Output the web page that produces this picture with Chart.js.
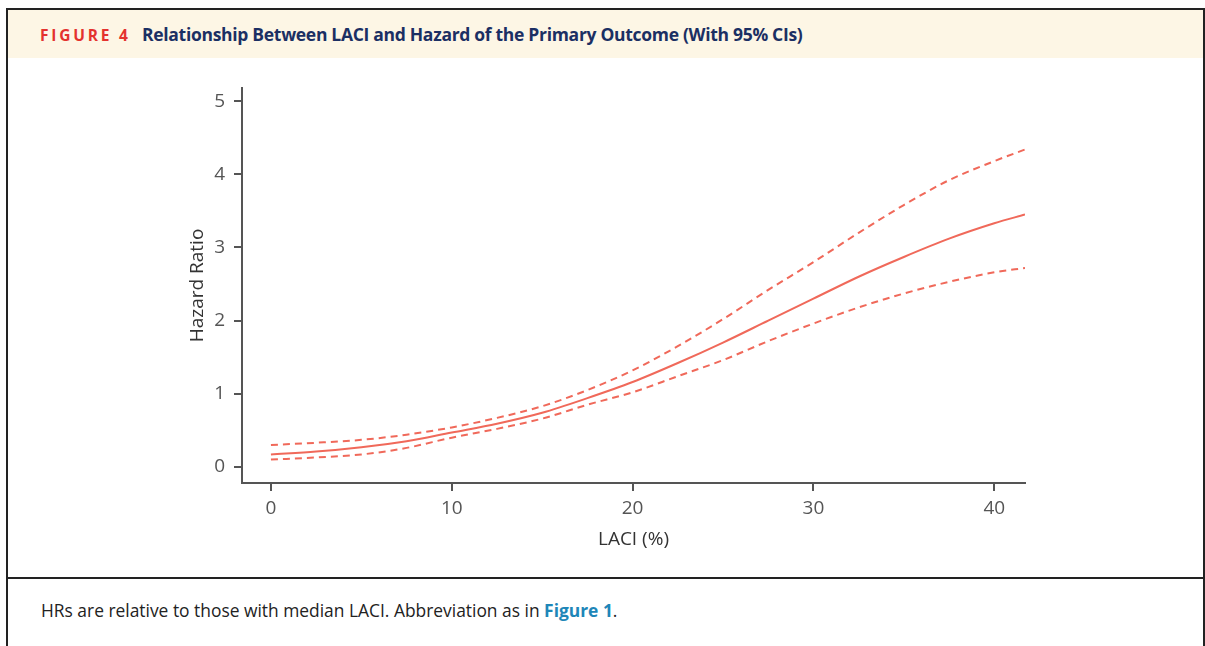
<!DOCTYPE html>
<html>
<head>
<meta charset="utf-8">
<script src="https://cdn.jsdelivr.net/npm/chart.js@4/dist/chart.umd.min.js"></script>
<style>
  html, body { margin: 0; padding: 0; background: #fff; }
  body { width: 1205px; height: 646px; position: relative; overflow: hidden; }
  .box { position: absolute; left: 6px; top: 8px; width: 1195px; height: 660px; border: 2px solid #222; }
  .head { position: absolute; left: 8px; top: 10px; width: 1195px; height: 48px; background: #fdf6e5; }
  .head .fig { position: absolute; left: 32px; top: 14px; font: bold 15.5px "Open Sans", sans-serif; color: #e4322e; letter-spacing: 2.8px; }
  .head .ttl { position: absolute; left: 134px; top: 12px; font: bold 17.5px "Open Sans", sans-serif; color: #1b2f63; letter-spacing: -0.3px; }
  .rule { position: absolute; left: 8px; top: 577px; width: 1195px; height: 2px; background: #222; }
  .cap { position: absolute; left: 41px; top: 598px; font: 17.4px "Open Sans", sans-serif; color: #222; }
  .cap b { color: #1e86b8; }
  #wrap { position: absolute; left: 0; top: 60px; width: 1205px; height: 510px; }
</style>
</head>
<body>
<div class="box"></div>
<div class="head">
  <span class="fig">FIGURE 4</span>
  <span class="ttl">Relationship Between LACI and Hazard of the Primary Outcome (With 95% CIs)</span>
</div>
<div id="wrap"><canvas id="hrChart"></canvas></div>
<div class="rule"></div>
<div class="cap">HRs are relative to those with median LACI. Abbreviation as in <b>Figure 1</b>.</div>
<script>
// LACI (%) and hazard ratio
const laci  = [0, 2.5, 5, 7.5, 10, 12.5, 15, 17.5, 20, 22.5, 25, 27.5, 30, 32.5, 35, 37.5, 40, 41.7];
const hr    = [0.17, 0.21, 0.27, 0.35, 0.47, 0.59, 0.74, 0.94, 1.16, 1.42, 1.70, 2.00, 2.30, 2.60, 2.87, 3.12, 3.33, 3.45];
const upper = [0.30, 0.33, 0.37, 0.44, 0.54, 0.67, 0.83, 1.05, 1.32, 1.65, 2.02, 2.42, 2.80, 3.20, 3.58, 3.92, 4.18, 4.34];
const lower = [0.10, 0.13, 0.17, 0.26, 0.40, 0.52, 0.66, 0.85, 1.02, 1.24, 1.46, 1.72, 1.96, 2.18, 2.37, 2.53, 2.66, 2.72];
const xTicks = [0, 10, 20, 30, 40];
const yTicks = [0, 1, 2, 3, 4, 5];

const lineColor = '#f0695a';
const axisColor = '#555';
const pts = arr => laci.map((x, i) => ({ x: x, y: arr[i] }));

const hrData = {
    datasets: [
        {
            label: 'HR',
            data: pts(hr),
            borderColor: lineColor,
            borderWidth: 2,
            pointRadius: 0,
            cubicInterpolationMode: 'monotone'
        },
        {
            label: 'Upper 95% CI',
            data: pts(upper),
            borderColor: lineColor,
            borderWidth: 2,
            borderDash: [7, 5],
            pointRadius: 0,
            cubicInterpolationMode: 'monotone'
        },
        {
            label: 'Lower 95% CI',
            data: pts(lower),
            borderColor: lineColor,
            borderWidth: 2,
            borderDash: [7, 5],
            pointRadius: 0,
            cubicInterpolationMode: 'monotone'
        }
    ]
};

// config
const hrConfig = {
    type: 'line',
    data: hrData,
    options: {
        responsive: true,
        maintainAspectRatio: false,
        animation: false,
        layout: { padding: { left: 186, top: 28, right: 180, bottom: 15 } },
        scales: {
            x: {
                type: 'linear',
                min: -1.6,
                max: 41.7,
                afterBuildTicks: s => { s.ticks = xTicks.map(v => ({ value: v })); },
                afterFit: s => { s.height = 72; },
                border: { display: true, color: axisColor, width: 2 },
                grid: { display: true, drawOnChartArea: false, drawTicks: true, tickLength: 8, color: axisColor, lineWidth: 2 },
                ticks: { color: axisColor, padding: 6, font: { family: 'Open Sans', size: 19 } },
                title: { display: true, text: 'LACI (%)', color: '#333', padding: { top: 4, bottom: 4 }, font: { family: 'Open Sans', size: 19 } }
            },
            y: {
                min: -0.22,
                max: 5.18,
                afterBuildTicks: s => { s.ticks = yTicks.map(v => ({ value: v })); },
                afterFit: s => { s.width = 56; },
                border: { display: true, color: axisColor, width: 2 },
                grid: { display: true, drawOnChartArea: false, drawTicks: true, tickLength: 8, color: axisColor, lineWidth: 2 },
                ticks: { color: axisColor, padding: 9, font: { family: 'Open Sans', size: 19 } },
                title: { display: true, text: 'Hazard Ratio', color: '#333', padding: { top: 0, bottom: 0 }, font: { family: 'Open Sans', size: 19 } }
            }
        },
        plugins: {
            legend: { display: false },
            tooltip: { enabled: false }
        }
    }
};
const hrElement = document.querySelector('#hrChart');
const hrChart = new Chart(hrElement, hrConfig);
</script>
</body>
</html>
